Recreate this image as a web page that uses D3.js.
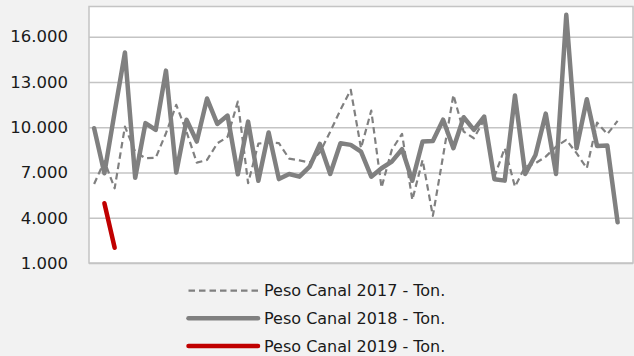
<!DOCTYPE html>
<html>
<head>
<meta charset="utf-8">
<script src="https://cdn.jsdelivr.net/npm/d3@7"></script>
<style>
  html, body { margin: 0; padding: 0; background: #f2f2f2; }
  svg { display: block; }
  text { font-family: "DejaVu Sans", Verdana, sans-serif; fill: #1a1a1a; }
</style>
</head>
<body>
<svg id="chart" width="634" height="356"></svg>
<script>
// Weekly carcass weight (tons), weeks 1..53
const weeks = ["1","2","3","4","5","6","7","8","9","10","11","12","13","14","15","16","17","18",
  "19","20","21","22","23","24","25","26","27","28","29","30","31","32","33","34","35","36",
  "37","38","39","40","41","42","43","44","45","46","47","48","49","50","51","52","53"];

const peso2017 = [6240, 7750, 5950, 10040, 8380, 7940, 7970, 9600, 11480, 9700,
  7650, 7830, 8930, 9360, 11700, 6290, 8910, 9000, 8940, 7920,
  7800, 7660, 8340, 9700, 11150, 12480, 8610, 11100, 6000, 8500,
  9560, 5180, 7830, 4120, 8100, 12140, 9710, 9270, 10490, 6720,
  8610, 6060, 7390, 7610, 8050, 8710, 9160, 8280, 7280, 10310,
  9540, 10420];

const peso2018 = [9930, 6950, 11000, 14950, 6650, 10270, 9820, 13750, 6990, 10490,
  9050, 11900, 10220, 10770, 6880, 10370, 6450, 9650, 6560, 6900,
  6720, 7390, 8890, 6900, 8940, 8830, 8380, 6720, 7280, 7720,
  8540, 6450, 9050, 9090, 10500, 8610, 10660, 9820, 10700, 6550,
  6460, 12100, 6900, 8160, 10900, 6900, 17450, 8610, 11850, 8760,
  8780, 3700];

const peso2019 = [null, 4960, 2010];

const yTicks = [1000, 4000, 7000, 10000, 13000, 16000];
const yDomain = [1000, 18000];

const seriesNames = ["Peso Canal 2017 - Ton.", "Peso Canal 2018 - Ton.", "Peso Canal 2019 - Ton."];

const svg = d3.select("#chart");
const W = 634, H = 356;
const plot = { left: 89, right: 633, top: 6.5, bottom: 263 };

svg.append("rect").attr("width", W).attr("height", H).attr("fill", "#f2f2f2");

const x = d3.scaleBand().domain(weeks).range([plot.left, plot.right]);
const y = d3.scaleLinear().domain(yDomain).range([plot.bottom, plot.top]);

const fmt = d3.formatLocale({ decimal: ",", thousands: ".", grouping: [3], currency: ["", ""] }).format(",d");

// plot area
svg.append("rect")
  .attr("x", plot.left).attr("y", plot.top)
  .attr("width", plot.right - plot.left).attr("height", plot.bottom - plot.top)
  .attr("fill", "#ffffff").attr("stroke", "#c4c4c4").attr("stroke-width", 1.5);

// horizontal gridlines + labels via axis
const yAxis = d3.axisLeft(y).tickValues(yTicks).tickFormat(fmt)
  .tickSize(-(plot.right - plot.left)).tickPadding(21);
const gy = svg.append("g").attr("transform", `translate(${plot.left},0)`).call(yAxis);
gy.select(".domain").remove();
gy.selectAll(".tick line").attr("stroke", "#c4c4c4").attr("stroke-width", 1.5);
gy.selectAll(".tick text")
  .style("font-family", '"DejaVu Sans", Verdana, sans-serif')
  .style("font-size", "16.5px").attr("fill", "#1a1a1a");

const xPos = (i) => x(weeks[i]) + x.bandwidth() / 2;

const line = d3.line()
  .defined(d => d != null)
  .x((d, i) => xPos(i))
  .y(d => y(d));

svg.append("path").datum(peso2017)
  .attr("d", line).attr("fill", "none")
  .attr("stroke", "#808080").attr("stroke-width", 2.2)
  .attr("stroke-dasharray", "6.5,4").attr("stroke-linejoin", "round");

svg.append("path").datum(peso2018)
  .attr("d", line).attr("fill", "none")
  .attr("stroke", "#808080").attr("stroke-width", 4.5)
  .attr("stroke-linejoin", "round").attr("stroke-linecap", "round");

svg.append("path").datum(peso2019)
  .attr("d", line).attr("fill", "none")
  .attr("stroke", "#c00000").attr("stroke-width", 4.5)
  .attr("stroke-linejoin", "round").attr("stroke-linecap", "round");

// legend
const legendStyles = [
  { stroke: "#808080", width: 2.2, dash: "6.5,4", cap: "butt" },
  { stroke: "#808080", width: 4.5, dash: null, cap: "round" },
  { stroke: "#c00000", width: 4.5, dash: null, cap: "round" }
];
const legendRows = [290.7, 318.3, 346];
const lg = svg.append("g");
seriesNames.forEach((name, i) => {
  const s = legendStyles[i];
  lg.append("line")
    .attr("x1", 188.5).attr("x2", 258)
    .attr("y1", legendRows[i]).attr("y2", legendRows[i])
    .attr("stroke", s.stroke).attr("stroke-width", s.width)
    .attr("stroke-dasharray", s.dash).attr("stroke-linecap", s.cap);
  lg.append("text")
    .attr("x", 264).attr("y", legendRows[i])
    .attr("dy", "0.36em")
    .style("font-size", "16px")
    .text(name);
});
</script>
</body>
</html>
